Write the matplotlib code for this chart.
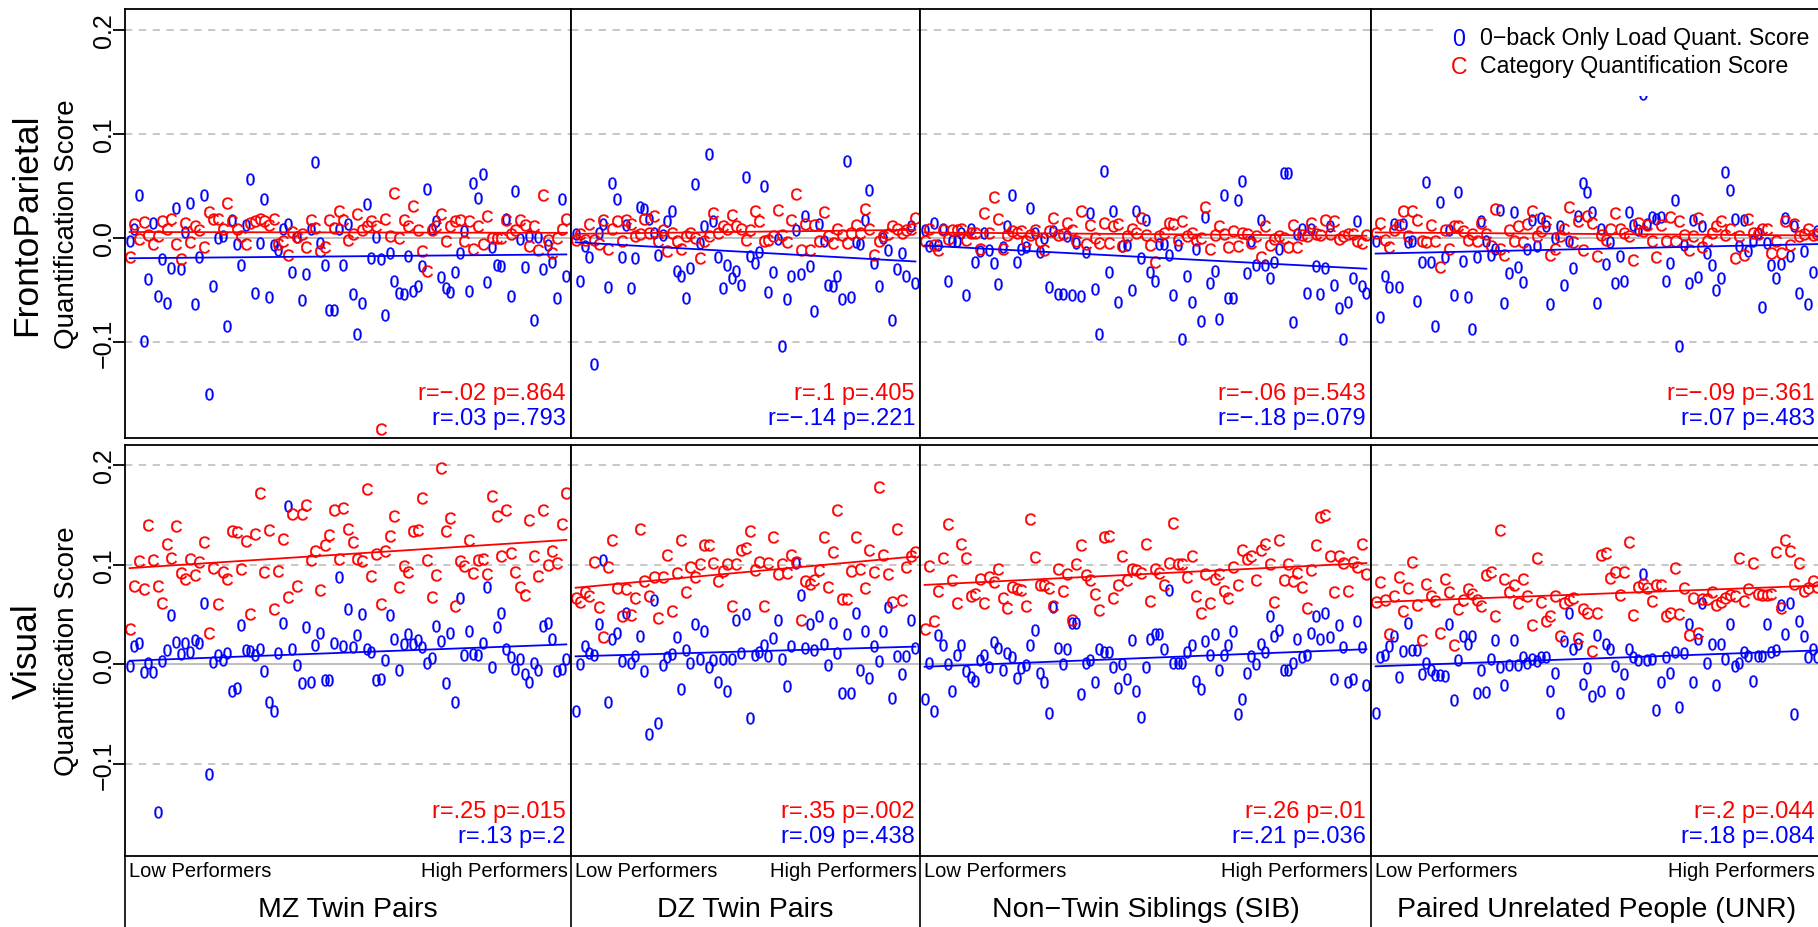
import numpy as np
import matplotlib
matplotlib.use("Agg")
import matplotlib.pyplot as plt
from matplotlib.lines import Line2D
from matplotlib.patches import Rectangle

plt.rcParams['font.family'] = ['Liberation Sans', 'DejaVu Sans']
plt.rcParams['mathtext.fontset'] = 'custom'
plt.rcParams['mathtext.rm'] = 'Liberation Sans'
plt.rcParams['mathtext.it'] = 'Liberation Sans'

# ---- data: pairs ordered from low to high performers ----
groups = ["MZ Twin Pairs", "DZ Twin Pairs", "Non\u2212Twin Siblings (SIB)",
          "Paired Unrelated People (UNR)"]
networks = ["FrontoParietal", "Visual"]
legend_labels = ["0\u2212back Only Load Quant. Score", "Category Quantification Score"]

fp_cat_stats = ["r=\u2212.02 p=.864", "r=.1 p=.405", "r=\u2212.06 p=.543", "r=\u2212.09 p=.361"]
fp_load_stats = ["r=.03 p=.793", "r=\u2212.14 p=.221", "r=\u2212.18 p=.079", "r=.07 p=.483"]
vis_cat_stats = ["r=.25 p=.015", "r=.35 p=.002", "r=.26 p=.01", "r=.2 p=.044"]
vis_load_stats = ["r=.13 p=.2", "r=.09 p=.438", "r=.21 p=.036", "r=.18 p=.084"]

mz_fp_load = [-0.003, 0.009, 0.041, -0.099, -0.040, 0.014, -0.056, -0.020, -0.063, -0.029,
              0.029, -0.030, 0.006, 0.034, -0.064, -0.018, 0.041, -0.150, -0.046, 0.000,
              0.002, -0.085, 0.017, -0.006, -0.026, 0.012, 0.057, -0.053, -0.005, 0.037,
              -0.057, -0.007, -0.012, 0.009, 0.013, -0.033, 0.001, -0.060, -0.035, 0.009,
              0.073, -0.005, -0.026, -0.069, -0.069, 0.009, -0.026, 0.013, -0.054, -0.092,
              -0.063, 0.033, -0.019, 0.001, -0.020, -0.074, -0.015, -0.041, -0.053, -0.054,
              -0.017, -0.051, -0.046, -0.027, 0.047, 0.009, 0.016, -0.038, -0.048, -0.052,
              -0.033, -0.015, 0.007, -0.051, 0.053, 0.038, 0.061, -0.042, -0.009, -0.026,
              -0.027, 0.018, -0.056, 0.045, -0.001, -0.028, 0.002, -0.079, 0.001, -0.030,
              -0.007, -0.023, -0.058, 0.037, -0.037]
mz_fp_cat = [-0.018, 0.013, -0.001, 0.015, 0.003, -0.006, 0.002, 0.016, 0.009, 0.018,
             -0.006, -0.020, 0.014, -0.004, 0.011, 0.008, -0.009, 0.025, 0.018, 0.018,
             0.009, 0.034, 0.016, 0.009, 0.002, -0.006, 0.014, 0.016, 0.018, 0.016,
             0.012, 0.018, -0.006, -0.003, -0.016, 0.006, 0.001, 0.004, -0.009, 0.017,
             0.010, -0.013, -0.009, 0.017, 0.010, 0.026, 0.017, -0.002, 0.004, 0.023,
             0.008, 0.011, 0.016, 0.011, -0.184, 0.018, 0.002, 0.043, 0.000, 0.017,
             0.011, 0.031, 0.008, -0.013, -0.032, 0.008, 0.011, 0.023, -0.003, 0.011,
             0.016, 0.017, -0.003, 0.016, -0.011, 0.011, -0.006, 0.021, 0.000, 0.000,
             0.000, 0.017, 0.004, 0.008, 0.017, 0.012, -0.008, 0.011, -0.012, 0.041,
             -0.002, -0.015, 0.000, 0.009, 0.018]
mz_vis_load = [-0.002, 0.018, 0.021, -0.008, 0.001, -0.008, -0.148, 0.003, 0.014, 0.049,
               0.022, 0.010, 0.021, 0.012, 0.024, 0.021, 0.062, -0.110, 0.002, 0.009,
               0.004, 0.011, -0.027, -0.024, 0.039, 0.014, 0.013, 0.009, 0.015, -0.007,
               -0.038, -0.047, 0.011, 0.041, 0.159, 0.015, -0.001, -0.019, 0.037, -0.018,
               0.019, 0.031, -0.016, -0.016, 0.021, 0.088, 0.018, 0.056, 0.017, 0.029,
               0.051, 0.015, 0.012, -0.016, -0.015, 0.004, 0.049, 0.025, -0.006, 0.020,
               0.030, 0.020, 0.024, 0.017, 0.001, 0.006, 0.038, 0.023, -0.019, 0.031,
               -0.038, 0.067, 0.009, 0.033, 0.010, 0.009, 0.021, 0.078, -0.003, 0.037,
               0.052, 0.015, 0.007, -0.005, 0.005, -0.010, -0.018, 0.001, -0.006, 0.038,
               0.041, 0.025, -0.007, -0.005, 0.005]
mz_vis_cat = [0.035, 0.079, 0.104, 0.076, 0.140, 0.105, 0.079, 0.062, 0.121, 0.107,
              0.139, 0.092, 0.086, 0.106, 0.090, 0.103, 0.123, 0.031, 0.097, 0.061,
              0.093, 0.086, 0.134, 0.133, 0.096, 0.124, 0.050, 0.131, 0.172, 0.093,
              0.135, 0.056, 0.094, 0.126, 0.068, 0.151, 0.079, 0.151, 0.160, 0.105,
              0.114, 0.075, 0.120, 0.130, 0.155, 0.106, 0.157, 0.136, 0.123, 0.106,
              0.104, 0.176, 0.089, 0.111, 0.061, 0.114, 0.129, 0.149, 0.078, 0.099,
              0.093, 0.134, 0.135, 0.167, 0.105, 0.068, 0.090, 0.197, 0.134, 0.147,
              0.059, 0.104, 0.099, 0.125, 0.092, 0.105, 0.106, 0.091, 0.169, 0.149,
              0.109, 0.155, 0.112, 0.093, 0.078, 0.070, 0.145, 0.109, 0.089, 0.155,
              0.100, 0.114, 0.102, 0.141, 0.172]

dz_fp_load = [0.004, -0.041, -0.008, -0.018, -0.121, 0.005, 0.013, -0.047, 0.053, 0.037,
              -0.018, 0.012, -0.048, -0.019, 0.030, 0.028, 0.018, 0.005, -0.016, 0.003,
              0.016, 0.026, -0.032, -0.037, -0.058, -0.029, 0.052, -0.005, 0.011, 0.081,
              0.016, -0.018, -0.048, -0.026, -0.039, -0.032, -0.045, 0.059, -0.017, -0.024,
              -0.014, 0.050, -0.052, -0.033, -0.001, -0.104, -0.059, -0.037, 0.008, -0.035,
              0.021, -0.027, -0.070, 0.013, -0.003, -0.045, -0.046, -0.037, -0.059, 0.074,
              -0.057, -0.004, -0.006, 0.017, 0.046, -0.024, -0.046, 0.000, -0.012, -0.079,
              -0.030, -0.015, -0.037, 0.011, -0.043]
dz_fp_cat = [-0.002, 0.004, -0.002, 0.013, -0.002, -0.006, 0.017, -0.011, 0.009, 0.016,
             -0.003, 0.017, 0.013, 0.002, 0.004, 0.018, 0.005, 0.021, -0.003, 0.008,
             -0.013, 0.005, -0.003, -0.011, 0.002, 0.005, 0.000, -0.019, -0.003, 0.002,
             0.024, 0.005, 0.011, 0.009, 0.022, 0.011, 0.009, -0.002, 0.008, 0.026,
             0.016, -0.003, -0.002, 0.002, 0.027, 0.003, -0.004, 0.017, 0.042, -0.012,
             0.013, -0.012, 0.012, -0.003, 0.025, 0.002, -0.005, 0.009, 0.003, -0.005,
             0.005, 0.012, 0.005, 0.028, 0.009, -0.016, -0.003, 0.002, 0.004, 0.011,
             0.009, 0.005, 0.008, 0.009, 0.019]
dz_vis_load = [-0.047, 0.000, 0.018, 0.011, 0.009, 0.040, 0.105, -0.038, 0.025, 0.031,
               0.003, 0.052, 0.001, 0.008, 0.028, -0.007, -0.070, 0.065, -0.059, -0.001,
               0.007, 0.010, 0.027, -0.025, 0.014, 0.001, 0.040, 0.005, 0.033, -0.003,
               0.004, -0.018, 0.005, -0.027, 0.005, 0.044, 0.011, 0.051, -0.054, 0.009,
               0.012, 0.019, 0.008, 0.026, 0.044, 0.005, -0.022, 0.018, 0.102, 0.070,
               0.016, 0.040, 0.014, 0.048, 0.020, -0.001, 0.041, 0.011, -0.029, 0.030,
               -0.029, 0.052, -0.006, 0.033, -0.014, 0.018, 0.003, 0.033, 0.058, -0.034,
               0.008, -0.010, 0.008, 0.044, 0.016]
dz_vis_cat = [0.067, 0.063, 0.073, 0.069, 0.103, 0.058, 0.027, 0.098, 0.125, 0.077,
              0.048, 0.076, 0.049, 0.067, 0.136, 0.084, 0.069, 0.088, 0.046, 0.088,
              0.110, 0.054, 0.092, 0.125, 0.073, 0.098, 0.088, 0.101, 0.120, 0.120,
              0.102, 0.084, 0.094, 0.101, 0.059, 0.101, 0.115, 0.117, 0.134, 0.095,
              0.103, 0.059, 0.102, 0.128, 0.091, 0.101, 0.092, 0.110, 0.103, 0.044,
              0.084, 0.081, 0.085, 0.095, 0.128, 0.078, 0.113, 0.155, 0.066, 0.066,
              0.094, 0.128, 0.096, 0.077, 0.115, 0.093, 0.178, 0.110, 0.091, 0.063,
              0.136, 0.065, 0.098, 0.109, 0.113]

sib_fp_load = [0.008, -0.008, 0.014, -0.007, 0.009, -0.041, -0.003, -0.003, 0.005, -0.055,
               0.009, -0.023, -0.013, 0.005, -0.012, -0.024, -0.044, -0.009, 0.011, 0.041,
               -0.023, -0.011, -0.009, 0.029, 0.005, -0.014, 0.000, -0.047, 0.007, -0.054,
               -0.054, 0.002, -0.055, -0.005, -0.056, -0.014, 0.024, -0.049, -0.092, 0.064,
               -0.033, 0.026, -0.062, -0.008, -0.007, -0.050, 0.026, -0.019, 0.017, -0.033,
               -0.041, -0.006, -0.006, -0.016, -0.055, -0.007, -0.097, -0.037, -0.062, -0.011,
               -0.080, 0.020, -0.043, -0.032, -0.078, 0.041, -0.058, -0.058, 0.036, 0.055,
               -0.034, -0.003, -0.026, 0.017, -0.026, -0.039, -0.023, -0.011, 0.062, 0.062,
               -0.081, 0.004, 0.009, -0.053, 0.009, -0.027, -0.054, -0.029, 0.011, -0.045,
               -0.067, -0.097, -0.062, -0.039, 0.016, -0.046, -0.053]
sib_fp_cat = [-0.003, 0.009, -0.007, -0.012, 0.008, -0.001, 0.008, 0.008, 0.009, -0.002,
              0.005, 0.005, -0.011, 0.024, 0.005, 0.039, 0.018, -0.011, 0.003, 0.007,
              0.005, 0.007, -0.003, 0.003, 0.008, -0.003, -0.012, 0.007, 0.019, 0.003,
              0.004, 0.014, 0.008, -0.003, 0.026, -0.006, 0.012, 0.000, -0.005, 0.014,
              -0.005, 0.011, 0.013, -0.008, 0.002, 0.009, 0.005, 0.019, 0.003, -0.007,
              -0.023, 0.002, 0.005, 0.014, 0.013, -0.002, 0.016, 0.002, 0.005, -0.002,
              0.000, 0.030, -0.011, 0.003, 0.011, 0.004, -0.009, 0.007, -0.008, 0.005,
              0.004, -0.005, 0.002, -0.018, 0.011, -0.007, -0.001, 0.002, 0.000, -0.009,
              0.012, -0.009, 0.003, 0.002, 0.014, 0.004, 0.003, 0.017, 0.004, 0.016,
              -0.001, 0.002, 0.004, 0.004, -0.003, -0.005, 0.003]
sib_vis_load = [-0.035, 0.001, -0.047, 0.029, 0.019, 0.000, -0.027, 0.009, 0.019, -0.007,
                -0.013, -0.017, 0.004, 0.009, -0.003, 0.022, 0.016, -0.006, 0.011, 0.007,
                -0.014, -0.004, -0.001, 0.019, 0.034, -0.009, -0.018, -0.049, 0.058, 0.016,
                0.000, 0.015, 0.041, 0.041, -0.030, 0.001, 0.004, -0.018, 0.015, 0.012,
                0.012, -0.003, -0.024, 0.000, -0.015, 0.024, -0.027, -0.053, -0.003, 0.025,
                0.030, 0.030, 0.015, 0.075, 0.001, 0.001, 0.001, 0.012, 0.019, -0.017,
                -0.025, 0.023, 0.009, 0.030, -0.006, 0.009, 0.019, 0.033, -0.050, -0.035,
                -0.009, 0.008, 0.000, 0.020, 0.012, 0.048, 0.028, 0.034, -0.006, -0.006,
                0.001, 0.025, 0.007, 0.009, 0.031, 0.048, 0.025, 0.052, 0.027, -0.015,
                0.039, 0.017, -0.018, -0.015, 0.043, 0.017, -0.021]
sib_vis_cat = [0.035, 0.099, 0.043, 0.074, 0.107, 0.141, 0.085, 0.062, 0.121, 0.107,
               0.069, 0.071, 0.086, 0.062, 0.088, 0.083, 0.096, 0.067, 0.057, 0.078,
               0.076, 0.075, 0.059, 0.146, 0.108, 0.080, 0.080, 0.077, 0.059, 0.096,
               0.074, 0.091, 0.044, 0.101, 0.120, 0.090, 0.085, 0.071, 0.055, 0.128,
               0.129, 0.067, 0.080, 0.109, 0.085, 0.096, 0.095, 0.092, 0.121, 0.064,
               0.096, 0.092, 0.080, 0.102, 0.142, 0.101, 0.101, 0.088, 0.109, 0.069,
               0.052, 0.091, 0.062, 0.086, 0.091, 0.074, 0.067, 0.098, 0.080, 0.115,
               0.106, 0.109, 0.085, 0.115, 0.121, 0.101, 0.063, 0.125, 0.085, 0.101,
               0.084, 0.092, 0.078, 0.057, 0.095, 0.120, 0.148, 0.150, 0.109, 0.073,
               0.109, 0.102, 0.074, 0.103, 0.098, 0.121, 0.091]

unr_fp_load = [-0.003, -0.076, -0.037, -0.047, 0.013, -0.047, 0.013, -0.004, -0.003, -0.061,
               -0.023, 0.054, -0.023, -0.085, 0.035, -0.018, 0.008, -0.055, 0.044, -0.022,
               -0.057, -0.088, -0.018, 0.016, -0.003, -0.016, -0.011, 0.027, -0.063, -0.034,
               0.025, -0.028, -0.042, -0.011, 0.017, -0.008, 0.019, 0.011, -0.064, 0.000,
               0.011, -0.045, -0.003, -0.029, 0.021, 0.053, 0.044, 0.025, -0.063, 0.009,
               -0.025, -0.004, -0.043, -0.017, -0.041, 0.025, 0.012, 0.008, 0.138, 0.013,
               0.020, 0.018, 0.020, -0.041, -0.024, 0.036, -0.104, -0.007, -0.043, 0.017,
               -0.038, 0.011, -0.015, -0.026, -0.050, -0.039, 0.063, 0.046, 0.018, -0.008,
               0.017, -0.013, -0.003, 0.005, -0.066, -0.005, -0.026, -0.039, -0.025, 0.019,
               -0.017, 0.011, -0.053, -0.013, -0.064, -0.033, 0.007]
unr_fp_cat = [0.005, 0.014, -0.002, -0.009, 0.008, 0.012, 0.026, 0.002, 0.026, 0.017,
              -0.003, -0.004, 0.012, -0.003, -0.028, 0.008, -0.011, 0.011, 0.011, 0.007,
              -0.002, 0.004, -0.003, 0.014, 0.004, -0.008, 0.028, -0.011, -0.016, 0.008,
              -0.003, 0.011, -0.004, 0.013, 0.026, 0.002, 0.007, 0.016, -0.016, -0.011,
              0.002, 0.009, 0.030, -0.004, 0.016, -0.012, 0.021, 0.014, -0.017, 0.003,
              -0.002, 0.009, 0.024, 0.009, 0.005, 0.002, -0.021, 0.014, 0.007, 0.012,
              -0.003, -0.018, 0.012, -0.003, 0.020, -0.003, 0.016, 0.003, -0.012, 0.002,
              0.019, -0.009, -0.003, 0.005, 0.011, 0.016, 0.003, 0.009, -0.019, 0.002,
              -0.016, 0.018, 0.005, 0.004, 0.009, 0.009, -0.015, -0.003, -0.015, 0.016,
              -0.007, 0.013, 0.002, 0.004, 0.009, 0.003, 0.004]
unr_vis_load = [-0.049, 0.007, 0.009, 0.018, 0.028, -0.013, 0.013, 0.041, 0.014, 0.014,
                -0.010, 0.001, -0.006, -0.011, -0.011, -0.012, 0.040, -0.036, 0.004, 0.028,
                0.020, 0.028, -0.029, -0.006, -0.028, 0.005, 0.024, -0.003, -0.021, -0.001,
                0.024, -0.001, 0.007, 0.001, 0.005, 0.003, 0.007, 0.007, -0.027, -0.009,
                -0.049, 0.023, 0.052, 0.015, 0.020, -0.020, -0.004, -0.032, 0.029, -0.027,
                0.020, 0.015, -0.002, -0.029, -0.010, 0.015, 0.007, 0.004, 0.091, 0.004,
                0.005, -0.046, -0.018, 0.007, -0.009, 0.012, -0.043, 0.011, 0.040, -0.018,
                0.025, 0.062, 0.001, 0.020, -0.021, 0.020, 0.005, 0.040, -0.002, 0.001,
                0.012, 0.008, -0.017, 0.008, 0.008, 0.040, 0.012, 0.014, 0.060, 0.030,
                0.062, -0.050, 0.043, 0.028, 0.007, 0.015, 0.007]
unr_vis_cat = [0.063, 0.083, 0.065, 0.030, 0.069, 0.088, 0.054, 0.077, 0.103, 0.060,
               0.024, 0.081, 0.069, 0.064, 0.031, 0.086, 0.073, 0.019, 0.056, 0.065,
               0.076, 0.071, 0.065, 0.059, 0.090, 0.093, 0.048, 0.135, 0.086, 0.073,
               0.080, 0.062, 0.086, 0.069, 0.039, 0.107, 0.063, 0.043, 0.048, 0.069,
               0.028, 0.062, 0.065, 0.067, 0.026, 0.056, 0.052, 0.013, 0.052, 0.110,
               0.112, 0.087, 0.093, 0.070, 0.093, 0.123, 0.049, 0.078, 0.081, 0.077,
               0.064, 0.080, 0.080, 0.048, 0.052, 0.097, 0.050, 0.077, 0.029, 0.067,
               0.031, 0.066, 0.066, 0.073, 0.060, 0.063, 0.067, 0.070, 0.069, 0.107,
               0.064, 0.076, 0.102, 0.071, 0.070, 0.070, 0.071, 0.113, 0.057, 0.125,
               0.114, 0.081, 0.102, 0.074, 0.077, 0.084, 0.078]

y_ticks = [-0.1, 0.0, 0.1, 0.2]
y_tick_labels = ["\u22120.1", "0.0", "0.1", "0.2"]

load_series = [[mz_fp_load, dz_fp_load, sib_fp_load, unr_fp_load],
               [mz_vis_load, dz_vis_load, sib_vis_load, unr_vis_load]]
cat_series = [[mz_fp_cat, dz_fp_cat, sib_fp_cat, unr_fp_cat],
              [mz_vis_cat, dz_vis_cat, sib_vis_cat, unr_vis_cat]]
cat_stats = [fp_cat_stats, vis_cat_stats]
load_stats = [fp_load_stats, vis_load_stats]

# ---- layout (pixels of the 1818x928 canvas) ----
W, H = 1818, 928
RED, BLUE, GRAY = "#ff0000", "#0000ff", "#bebebe"
col_px = [125, 571, 920, 1371, 1822]
row_px = [(10, 439), (446, 857)]


def fx(px):
    return px / W


def fy(px):
    return 1 - px / H


fig = plt.figure(figsize=(W / 100, H / 100), dpi=100)

for r, (ytop, ybot) in enumerate(row_px):
    for c in range(4):
        ax = fig.add_axes([fx(col_px[c]), fy(ybot), fx(col_px[c + 1] - col_px[c]),
                           (ybot - ytop) / H])
        y_load = np.array(load_series[r][c])
        y_cat = np.array(cat_series[r][c])
        rank = np.arange(len(y_load))

        ax.set_xlim(-1, len(y_load))
        ax.set_ylim(-0.1925, 0.2202)
        for g in (-0.1, 0.1, 0.2):
            ax.axhline(g, color=GRAY, lw=1.2, ls=(0, (4.4, 3.9)), zorder=1)
        ax.axhline(0, color=GRAY, lw=1.4, zorder=1)

        ax.plot(rank, y_load, ls="none", marker="$0$", ms=8.5, color=BLUE,
                mew=0.3, zorder=2)
        ax.plot(rank, y_cat, ls="none", marker="$C$", ms=8.5, color=RED,
                mew=0.3, zorder=2)

        # least squares fits
        for yy, col in ((y_cat, RED), (y_load, BLUE)):
            k, b = np.polyfit(rank, yy, 1)
            ends = rank[[0, -1]]
            ax.plot(ends, k * ends + b, color=col, lw=1.3, zorder=3)

        ax.set_xticks([])
        if c == 0:
            ax.set_yticks(y_ticks)
            ax.set_yticklabels(y_tick_labels, rotation=90, va="center", ha="right",
                               fontsize=18)
            ax.tick_params(axis="y", length=8.6, width=1.3, pad=-2.3)
        else:
            ax.set_yticks([])
        for sp in ax.spines.values():
            sp.set_linewidth(1.3)

        xr = min(col_px[c + 1] - 5, 1815)
        fig.text(fx(xr), fy(ybot - 45), cat_stats[r][c], ha="right", va="center",
                 color=RED, fontsize=17)
        fig.text(fx(xr), fy(ybot - 20), load_stats[r][c], ha="right", va="center",
                 color=BLUE, fontsize=17)

    ymid = (ytop + ybot) / 2
    fig.text(fx(27), fy(ymid), networks[r], rotation=90, ha="center", va="center",
             fontsize=25.5)
    fig.text(fx(67), fy(ymid), "Quantification Score", rotation=90, ha="center",
             va="center", fontsize=20)

# legend, white box over the top-right panel
fig.add_artist(Rectangle((fx(1433), fy(97)), fx(1818 - 1433), (97 - 12) / H,
                         transform=fig.transFigure, fc="white", ec="none", zorder=1))
for sym, col, lab, ypx in (("0", BLUE, legend_labels[0], 39),
                           ("C", RED, legend_labels[1], 67)):
    fig.text(fx(1459), fy(ypx), sym, color=col, ha="center", va="center", fontsize=16.7)
    fig.text(fx(1480), fy(ypx), lab, ha="left", va="center", fontsize=16.7)

# bottom labels
for c in range(4):
    x0, x1 = col_px[c], col_px[c + 1]
    fig.text(fx(x0 + 4), fy(872), "Low Performers", ha="left", va="center", fontsize=14.5)
    fig.text(fx(min(x1 - 3, 1815)), fy(872), "High Performers", ha="right",
             va="center", fontsize=14.5)
    fig.text(fx((x0 + x1) / 2), fy(910), groups[c], ha="center", va="center",
             fontsize=20.5)
    fig.add_artist(Line2D([fx(x0), fx(x0)], [fy(857), fy(928)], color="black",
                          lw=1.2, transform=fig.transFigure))

fig.savefig("out.png", dpi=100)
